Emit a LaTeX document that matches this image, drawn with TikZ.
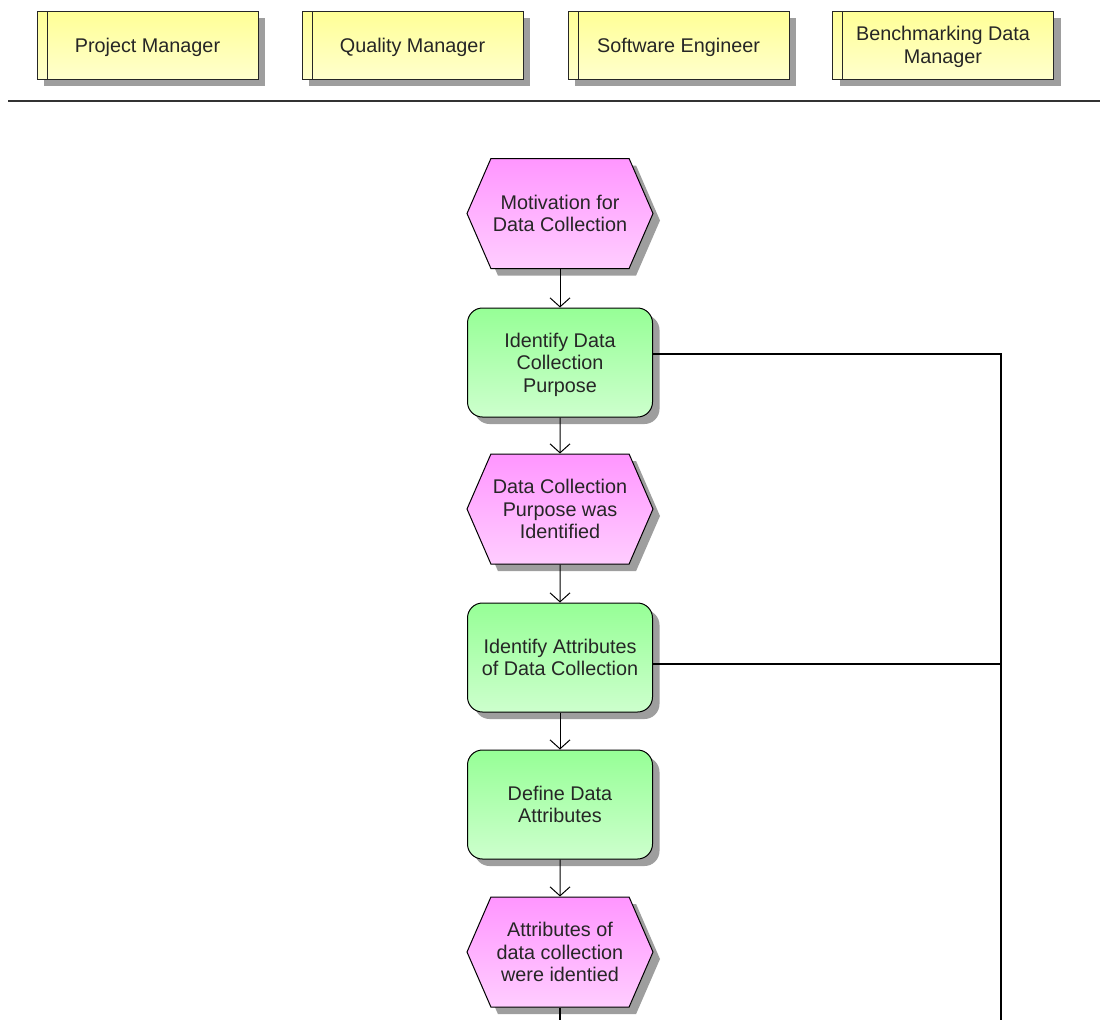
\documentclass[tikz,border=0pt]{standalone}
\usepackage{fontspec}
\setmainfont{Liberation Sans}
\usepackage{tikz}
\usetikzlibrary{shapes.symbols,shadows,arrows.meta}

\definecolor{roletop}{RGB}{255,255,150}
\definecolor{rolebot}{RGB}{255,255,205}
\definecolor{eventtop}{RGB}{255,150,255}
\definecolor{eventbot}{RGB}{255,205,255}
\definecolor{functop}{RGB}{150,255,150}
\definecolor{funcbot}{RGB}{205,255,205}

\tikzset{
  boxtext/.style={align=center,font=\fontsize{19.8}{22.5}\selectfont,text=black!85,inner sep=0pt,text depth=-7pt},
  boxshadow/.style={drop shadow={shadow xshift=7pt,shadow yshift=-7pt,fill=black!38,opacity=1}},
  role/.style={boxtext,boxshadow,shape=rectangle,draw=black!85,line width=1pt,
    minimum width=221pt,minimum height=68pt,top color=roletop,bottom color=rolebot,
    path picture={\draw[black!85,line width=1pt]
      ([xshift=10pt]path picture bounding box.north west) --
      ([xshift=10pt]path picture bounding box.south west);}},
  event/.style={boxtext,boxshadow,shape=signal,signal to=east and west,signal pointer angle=133,
    draw=black,line width=1pt,minimum width=186pt,minimum height=110pt,
    top color=eventtop,bottom color=eventbot},
  func/.style={boxtext,boxshadow,shape=rectangle,rounded corners=15pt,draw=black,line width=1pt,
    minimum width=185pt,minimum height=109pt,top color=functop,bottom color=funcbot},
  flow/.style={-{Straight Barb[length=9pt,width=20pt]},line width=1pt},
  link/.style={line width=1.2pt}
}

\begin{document}
\begin{tikzpicture}[x=1pt,y=-1pt]
        \useasboundingbox (0,0) rectangle (1100,1020);

        % roles
        \node[role] (pm)  at (147.5, 45) {Project Manager};
        \node[role] (qm)  at (412.5, 45) {Quality Manager};
        \node[role] (se)  at (678.5, 45) {Software Engineer};
        \node[role] (bdm) at (943, 45)   {Benchmarking Data\\Manager};

        \draw[line width=1.2pt,black!80] (8,101) -- (1100,101);

        % process chain
        \node[event] (motiv)   at (560, 213.5) {Motivation for\\Data Collection};
        \node[func]  (purpose) at (560, 362.5) {Identify Data\\Collection\\Purpose};
        \node[event] (purpid)  at (560, 509)   {Data Collection\\Purpose was\\Identified};
        \node[func]  (attrib)  at (560, 657.5) {Identify Attributes\\of Data Collection};
        \node[func]  (define)  at (560, 804.5) {Define Data\\Attributes};
        \node[event] (attrid)  at (560, 952)   {Attributes of\\data collection\\were identied};

        \coordinate (chainend) at (560, 1020);
        \coordinate (railend)  at (1001, 1020);

	\path[flow] (motiv) edge (purpose);
	\path[flow] (purpose) edge (purpid);
	\path[flow] (purpid) edge (attrib);
	\path[flow] (attrib) edge (define);
	\path[flow] (define) edge (attrid);
	\draw[link] (attrid) -- (chainend);

	% links to the right
	\draw[link] ([yshift=8.5pt]purpose.east) -| (railend);
	\draw[link] ([yshift=-6.5pt]attrib.east) -- ([yshift=-6.5pt]attrib.east -| railend);
\end{tikzpicture}
\end{document}
